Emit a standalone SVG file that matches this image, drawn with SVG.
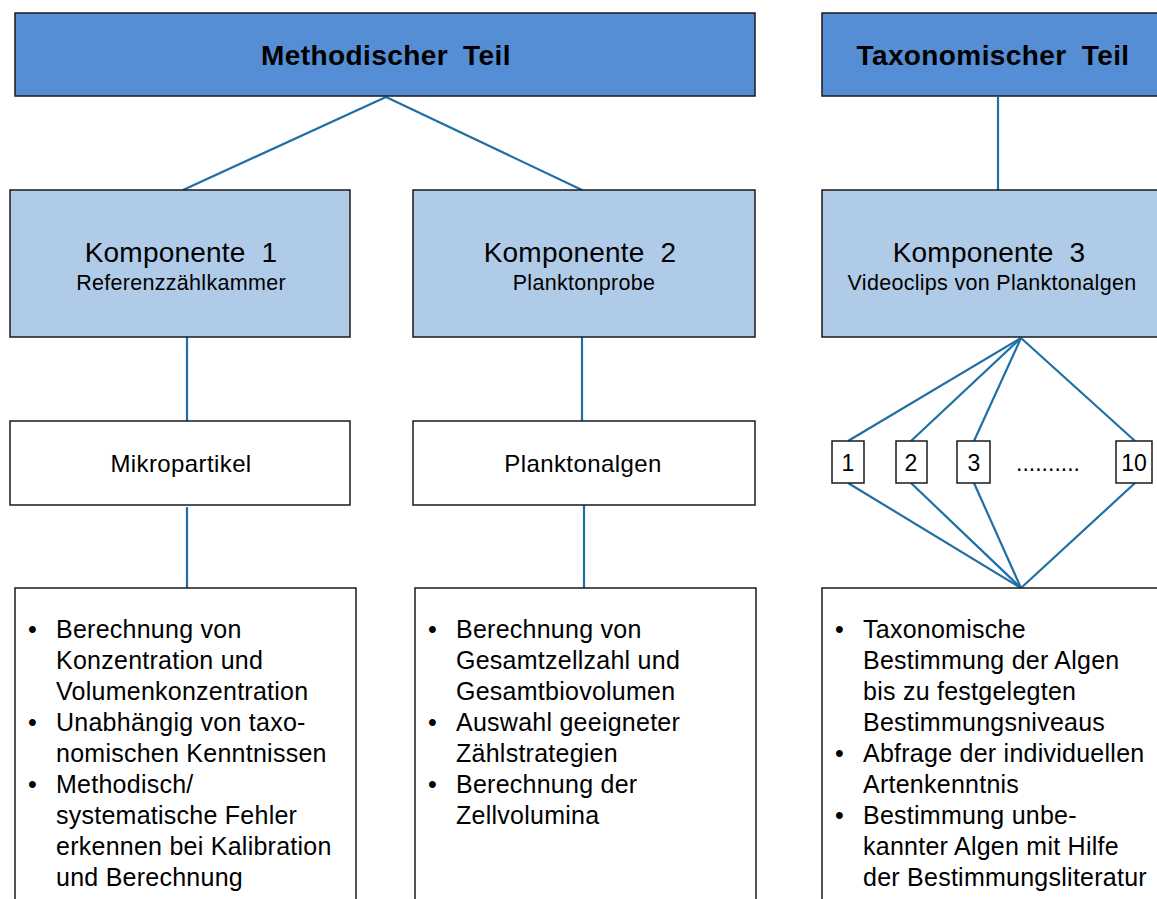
<svg xmlns="http://www.w3.org/2000/svg" width="1157" height="899" viewBox="0 0 1157 899">
<style>
text{font-family:"Liberation Sans",Arial,sans-serif;fill:#000}
.hdr{fill:#558ED5;stroke:#1a1a1a;stroke-width:1.5}
.comp{fill:#B0CBE7;stroke:#1a1a1a;stroke-width:1.5}
.box{fill:#fff;stroke:#1a1a1a;stroke-width:1.5}
.ht{font-size:28px;font-weight:bold;text-anchor:middle;letter-spacing:0.4px;word-spacing:7px}
.ct{font-size:28px;text-anchor:middle;word-spacing:8px;letter-spacing:0.2px}
.cs{font-size:21.5px;text-anchor:middle;letter-spacing:0.3px}
.mt{font-size:24px;text-anchor:middle;letter-spacing:0.4px}
.bt{font-size:25px;letter-spacing:0.25px}
.nt{font-size:23px;text-anchor:middle}
#connectors line{stroke:#1E6FA5;stroke-width:2.2}
</style>
<rect width="1157" height="899" fill="#fff"/>
<g id="connectors">
<line x1="386" y1="97" x2="183" y2="190"/>
<line x1="386" y1="97" x2="582" y2="190"/>
<line x1="998" y1="97" x2="998" y2="190"/>
<line x1="187" y1="337" x2="187" y2="421"/>
<line x1="582" y1="337" x2="582" y2="421"/>
<line x1="187" y1="507" x2="187" y2="590"/>
<line x1="584" y1="505" x2="584" y2="590"/>
<line x1="1021" y1="338" x2="848" y2="441"/>
<line x1="1021" y1="338" x2="911" y2="441"/>
<line x1="1021" y1="338" x2="974" y2="441"/>
<line x1="1021" y1="338" x2="1135" y2="441"/>
<line x1="848" y1="483" x2="1021" y2="588"/>
<line x1="911" y1="483" x2="1021" y2="588"/>
<line x1="974" y1="483" x2="1021" y2="588"/>
<line x1="1135" y1="483" x2="1021" y2="588"/>
</g>
<g id="header-methodisch">
<rect class="hdr" x="15" y="13" width="740" height="83"/>
<text class="ht" x="386" y="65">Methodischer Teil</text>
</g>
<g id="header-taxonomisch">
<rect class="hdr" x="822" y="13" width="350" height="83"/>
<text class="ht" x="993" y="65">Taxonomischer Teil</text>
</g>
<g id="komponente1">
<rect class="comp" x="10" y="190" width="340" height="147"/>
<text class="ct" x="181" y="262">Komponente 1</text>
<text class="cs" x="181" y="290">Referenzzählkammer</text>
</g>
<g id="komponente2">
<rect class="comp" x="413" y="190" width="342" height="147"/>
<text class="ct" x="580" y="262">Komponente 2</text>
<text class="cs" x="584" y="290">Planktonprobe</text>
</g>
<g id="komponente3">
<rect class="comp" x="822" y="190" width="350" height="147"/>
<text class="ct" x="989" y="262">Komponente 3</text>
<text class="cs" x="992" y="290">Videoclips von Planktonalgen</text>
</g>
<g id="mikropartikel">
<rect class="box" x="10" y="421" width="340" height="84"/>
<text class="mt" x="181" y="472">Mikropartikel</text>
</g>
<g id="planktonalgen">
<rect class="box" x="413" y="421" width="342" height="84"/>
<text class="mt" x="583" y="472">Planktonalgen</text>
</g>
<g id="clip1"><rect class="box" x="832" y="441" width="32" height="42"/><text class="nt" x="848" y="471">1</text></g>
<g id="clip2"><rect class="box" x="896" y="441" width="31" height="42"/><text class="nt" x="911" y="471">2</text></g>
<g id="clip3"><rect class="box" x="957" y="441" width="33" height="42"/><text class="nt" x="974" y="471">3</text></g>
<g id="dots"><text class="nt" x="1048" y="471">..........</text></g>
<g id="clip10"><rect class="box" x="1116" y="441" width="36" height="42"/><text class="nt" x="1134" y="471">10</text></g>
<g id="details1">
<rect class="box" x="15" y="588" width="341" height="320"/>
<text class="bt"><tspan x="28" y="638">•</tspan><tspan x="56" y="638">Berechnung von</tspan><tspan x="56" y="669">Konzentration und</tspan><tspan x="56" y="700">Volumenkonzentration</tspan><tspan x="28" y="731">•</tspan><tspan x="56" y="731">Unabhängig von taxo-</tspan><tspan x="56" y="762">nomischen Kenntnissen</tspan><tspan x="28" y="793">•</tspan><tspan x="56" y="793">Methodisch/</tspan><tspan x="56" y="824">systematische Fehler</tspan><tspan x="56" y="855">erkennen bei Kalibration</tspan><tspan x="56" y="886">und Berechnung</tspan></text>
</g>
<g id="details2">
<rect class="box" x="415" y="588" width="341" height="320"/>
<text class="bt"><tspan x="428" y="638">•</tspan><tspan x="456" y="638">Berechnung von</tspan><tspan x="456" y="669">Gesamtzellzahl und</tspan><tspan x="456" y="700">Gesamtbiovolumen</tspan><tspan x="428" y="731">•</tspan><tspan x="456" y="731">Auswahl geeigneter</tspan><tspan x="456" y="762">Zählstrategien</tspan><tspan x="428" y="793">•</tspan><tspan x="456" y="793">Berechnung der</tspan><tspan x="456" y="824">Zellvolumina</tspan></text>
</g>
<g id="details3">
<rect class="box" x="822" y="588" width="350" height="320"/>
<text class="bt"><tspan x="835" y="638">•</tspan><tspan x="863" y="638">Taxonomische</tspan><tspan x="863" y="669">Bestimmung der Algen</tspan><tspan x="863" y="700">bis zu festgelegten</tspan><tspan x="863" y="731">Bestimmungsniveaus</tspan><tspan x="835" y="762">•</tspan><tspan x="863" y="762">Abfrage der individuellen</tspan><tspan x="863" y="793">Artenkenntnis</tspan><tspan x="835" y="824">•</tspan><tspan x="863" y="824">Bestimmung unbe-</tspan><tspan x="863" y="855">kannter Algen mit Hilfe</tspan><tspan x="863" y="886">der Bestimmungsliteratur</tspan></text>
</g>
</svg>
